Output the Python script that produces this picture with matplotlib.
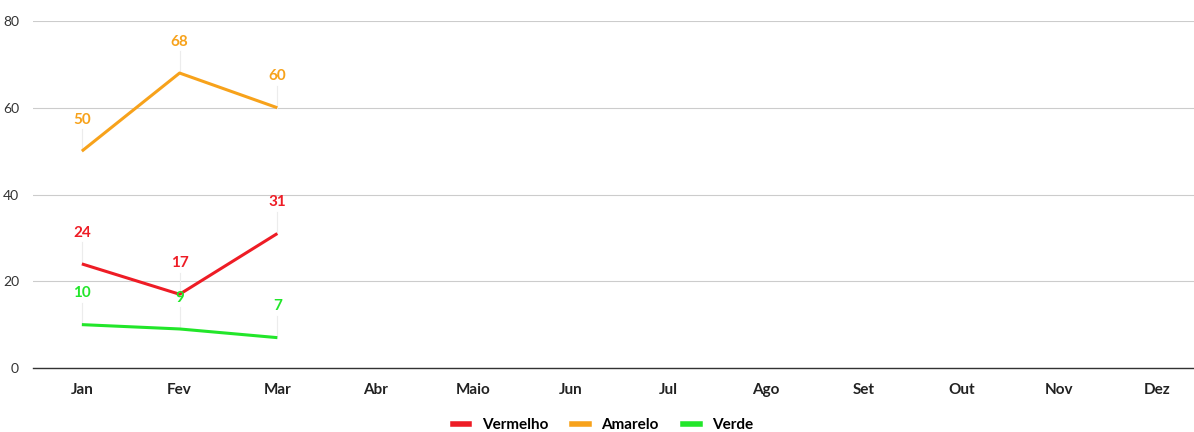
import matplotlib.pyplot as plt
from matplotlib.lines import Line2D

months = ["Jan", "Fev", "Mar", "Abr", "Maio", "Jun", "Jul", "Ago", "Set", "Out", "Nov", "Dez"]
vermelho = [24, 17, 31]
amarelo = [50, 68, 60]
verde = [10, 9, 7]
yticks = [0, 20, 40, 60, 80]

series = [
    ("Vermelho", vermelho, "#ee1c25"),
    ("Amarelo", amarelo, "#f7a21b"),
    ("Verde", verde, "#22e62a"),
]

plt.rcParams["font.family"] = ["Lato", "DejaVu Sans"]

fig = plt.figure(figsize=(11.94, 4.32), dpi=100)
ax = fig.add_axes([33 / 1194, 64 / 432, 1 - 33 / 1194, 347 / 432])

for name, vals, col in series:
    xs = list(range(len(vals)))
    ax.plot(xs, vals, color=col, lw=2.2, solid_capstyle="butt", zorder=3)
    for x, v in zip(xs, vals):
        # faint leader line + value label above the point
        ax.plot([x, x], [v, v + 5], color="#ececec", lw=0.8, zorder=1)
        ax.annotate(str(v), (x, v), xytext=(0, 22.5), textcoords="offset points",
                    ha="center", va="center", color=col, fontsize=11,
                    fontweight="bold", zorder=4)

ax.set_xlim(-0.5, 11.38)
ax.set_ylim(0, 80)
ax.set_xticks(range(len(months)))
ax.set_xticklabels(months, fontweight="bold", fontsize=11, color="#222222")
ax.set_yticks(yticks)
ax.set_yticklabels([str(t) for t in yticks], fontsize=10, color="#333333")
ax.tick_params(axis="both", length=0)
ax.tick_params(axis="x", pad=11)
ax.tick_params(axis="y", pad=10)

ax.grid(axis="y", color="#cccccc", lw=0.8)
ax.set_axisbelow(True)
for s in ["top", "right", "left"]:
    ax.spines[s].set_visible(False)
ax.spines["bottom"].set_color("#333333")
ax.spines["bottom"].set_linewidth(1.0)

handles = [Line2D([0], [0], color=c, lw=4) for _, _, c in series]
fig.legend(handles, [n for n, _, _ in series], loc="center", bbox_to_anchor=(603 / 1194, 7 / 432),
           ncol=3, frameon=False, handlelength=1.1, columnspacing=1.6,
           prop={"weight": "bold", "size": 11})

fig.savefig("out.png", dpi=100)
